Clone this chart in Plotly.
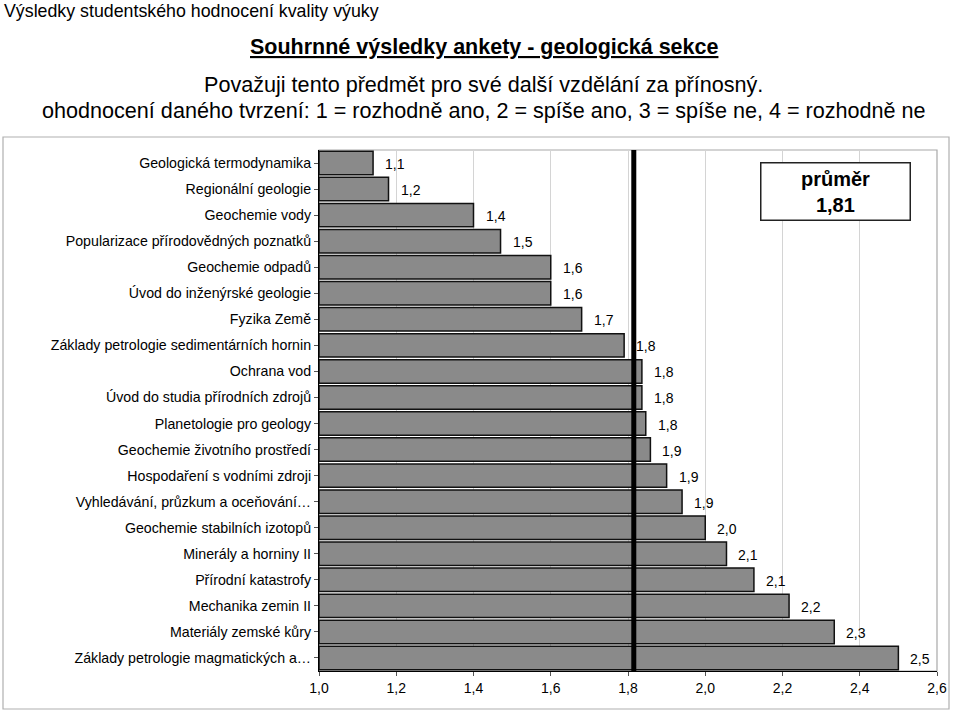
import plotly.graph_objects as go

# Data
subjects = [
    "Geologická termodynamika",
    "Regionální geologie",
    "Geochemie vody",
    "Popularizace přírodovědných poznatků",
    "Geochemie odpadů",
    "Úvod do inženýrské geologie",
    "Fyzika Země",
    "Základy petrologie sedimentárních hornin",
    "Ochrana vod",
    "Úvod do studia přírodních zdrojů",
    "Planetologie pro geology",
    "Geochemie životního prostředí",
    "Hospodaření s vodními zdroji",
    "Vyhledávání, průzkum a oceňování…",
    "Geochemie stabilních izotopů",
    "Minerály a horniny II",
    "Přírodní katastrofy",
    "Mechanika zemin II",
    "Materiály zemské kůry",
    "Základy petrologie magmatických a…",
]
scores = [1.14, 1.18, 1.40, 1.47, 1.60, 1.60, 1.68, 1.79, 1.836, 1.836,
          1.846, 1.858, 1.90, 1.94, 2.00, 2.055, 2.126, 2.217, 2.334, 2.50]
mean_score = 1.815
mean_label = "1,81"
x_ticks = [1.0, 1.2, 1.4, 1.6, 1.8, 2.0, 2.2, 2.4, 2.6]

FONT = "Liberation Sans, Arial, sans-serif"

fig = go.Figure()

fig.add_trace(go.Bar(
    x=[s - 1.0 for s in scores],
    base=1.0,
    y=subjects,
    orientation="h",
    marker=dict(color="#8a8a8a", line=dict(color="#111111", width=1.5)),
    hoverinfo="y+x",
    showlegend=False,
))

# mean line
fig.add_shape(type="line", x0=mean_score, x1=mean_score, yref="y domain", y0=0, y1=1,
              line=dict(color="black", width=5), layer="above")

# gray frame around plot area and outer frame
fig.add_shape(type="rect", xref="x domain", yref="y domain", x0=0, x1=1, y0=0, y1=1,
              line=dict(color="#a8a8a8", width=1.2), layer="below")
fig.add_shape(type="rect", xref="paper", yref="paper",
              x0=(3 - 319) / 618, x1=(949 - 319) / 618,
              y0=(671 - 709) / 521, y1=(671 - 137) / 521,
              line=dict(color="#b0b0b0", width=1.2), layer="below")

# value labels at bar ends
for subj, s in zip(subjects, scores):
    fig.add_annotation(x=s, y=subj, text=f"{s:.1f}".replace(".", ","),
                       showarrow=False, xanchor="left", xshift=10, yshift=-1,
                       font=dict(size=14, color="black", family=FONT))

# mean box
fig.add_annotation(xref="paper", yref="paper", x=0.835, y=0.921,
                   xanchor="center", yanchor="middle",
                   text=f"<b>průměr<br>{mean_label}</b>", showarrow=False,
                   font=dict(size=20, color="black", family=FONT),
                   bgcolor="white", bordercolor="#222222", borderwidth=1.5,
                   width=146, height=54, align="center")


# headings (positions given in pixels, converted to paper coords)
def px_x(px):
    return (px - 319) / 618


def px_y(py):
    return (671 - py) / 521


fig.add_annotation(xref="paper", yref="paper", x=px_x(2), y=px_y(11),
                   xanchor="left", yanchor="middle",
                   text="Výsledky studentského hodnocení kvality výuky",
                   showarrow=False, font=dict(size=17.8, color="black", family=FONT))
fig.add_annotation(xref="paper", yref="paper", x=px_x(484), y=px_y(47),
                   xanchor="center", yanchor="middle",
                   text="<b><u>Souhrnné výsledky ankety - geologická sekce</u></b>",
                   showarrow=False, font=dict(size=21.5, color="black", family=FONT))
fig.add_annotation(xref="paper", yref="paper", x=px_x(483), y=px_y(84),
                   xanchor="center", yanchor="middle",
                   text="Považuji tento předmět pro své další vzdělání za přínosný.",
                   showarrow=False, font=dict(size=21.6, color="black", family=FONT))
fig.add_annotation(xref="paper", yref="paper", x=px_x(484), y=px_y(111),
                   xanchor="center", yanchor="middle",
                   text="ohodnocení daného tvrzení: 1 = rozhodně ano, 2 = spíše ano, 3 = spíše ne, 4 = rozhodně ne",
                   showarrow=False, font=dict(size=21.6, color="black", family=FONT))

fig.update_layout(
    width=960, height=713,
    margin=dict(l=319, r=23, t=150, b=42),
    paper_bgcolor="white", plot_bgcolor="white",
    bargap=0.1,
    separators=",.",
    font=dict(family=FONT, size=14, color="black"),
)
fig.update_xaxes(range=[1.0, 2.6], tickvals=x_ticks, tickformat=".1f",
                 showgrid=True, gridcolor="#d4d4d4", gridwidth=1,
                 showline=True, linecolor="black", linewidth=1.2,
                 ticks="outside", ticklen=4, tickcolor="#555555",
                 tickfont=dict(size=14), zeroline=False)
fig.update_yaxes(autorange="reversed", showgrid=False,
                 showline=True, linecolor="black", linewidth=1.2,
                 ticks="outside", ticklen=4, tickcolor="#555555",
                 tickfont=dict(size=14.2))

fig.write_html("out.html", config={"displayModeBar": False},
               post_script="document.body.style.margin='0';")
